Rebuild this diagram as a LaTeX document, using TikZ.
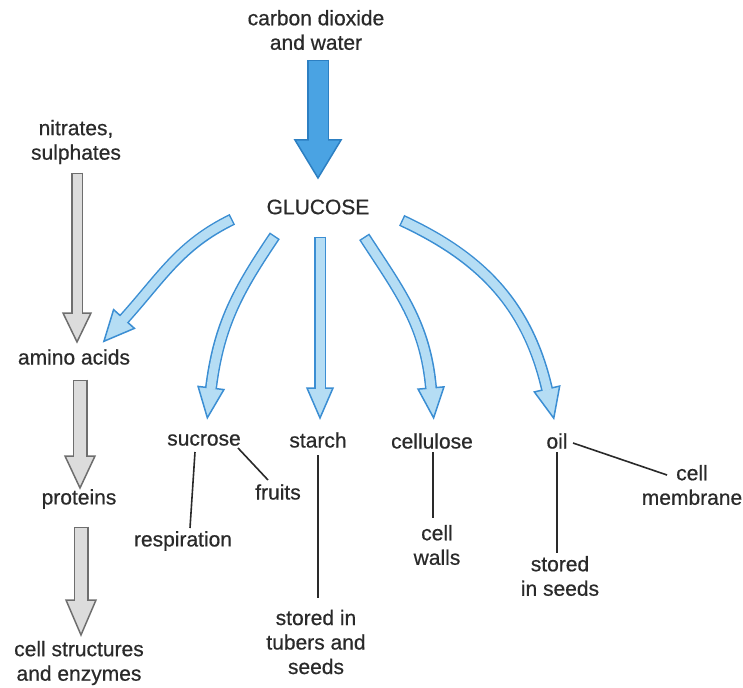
\documentclass[tikz,border=0pt]{standalone}
\usepackage{fontspec}
\setmainfont{Liberation Sans}[FakeBold=0.6]
\usetikzlibrary{calc}
\definecolor{txt}{HTML}{2A2A2A}
\definecolor{bigfill}{HTML}{4AA3E3}
\definecolor{bigline}{HTML}{2C7FC2}
\definecolor{ltfill}{HTML}{B5DDF4}
\definecolor{ltline}{HTML}{3B8ED3}
\definecolor{gyfill}{HTML}{DCDCDC}
\definecolor{gyline}{HTML}{6E6E6E}
\tikzset{
  lbl/.style={text=txt, font=\fontsize{21}{24.5}\selectfont, align=center, inner sep=0pt},
  link/.style={draw=txt, line width=1.6pt},
  bigout/.style={draw=bigline}, bigin/.style={draw=bigfill}, bighead/.style={draw=bigline, fill=bigfill},
  ltout/.style={draw=ltline}, ltin/.style={draw=ltfill}, lthead/.style={draw=ltline, fill=ltfill},
  gyout/.style={draw=gyline}, gyin/.style={draw=gyfill}, gyhead/.style={draw=gyline, fill=gyfill},
}
% #1 start, #2 head base, #3 out angle, #4 end direction (image angles, clockwise), #5 style, #6 shaft width, #7 head half width, #8 head length
\newcommand{\fatarr}[8]{%
  \pgfmathsetmacro\faOut{-(#3)}%
  \pgfmathsetmacro\faIn{180-(#4)}%
  \pgfmathsetmacro\faOuter{#6+3}%
  \draw[#5out, line width=\faOuter pt, shorten <=-1.5pt] (#1) to[out=\faOut,in=\faIn] (#2);
  \filldraw[#5head, line width=1.5pt, line join=miter] ($(#2)+(#4+90:#7)$) -- ($(#2)+(#4:#8)$) -- ($(#2)+(#4-90:#7)$) -- cycle;
  \draw[#5in, line width=#6 pt, shorten >=-1.2pt] (#1) to[out=\faOut,in=\faIn] (#2);
}
\begin{document}
\begin{tikzpicture}[x=1pt, y=-1pt]
\useasboundingbox (0,0) rectangle (743,687);
% labels
\node[lbl] (co2) at (316,30) {carbon dioxide\\and water};
\node[lbl] (glu) at (318,207) {GLUCOSE};
\node[lbl] (nit) at (76,142) {nitrates,\\sulphates};
\node[lbl] (amino) at (74,357) {amino acids};
\node[lbl] (prot) at (79,499) {proteins};
\node[lbl] (cellstr) at (79,663) {cell structures\\and enzymes};
\node[lbl] (suc) at (204,440) {sucrose};
\node[lbl] (starch) at (318,440) {starch};
\node[lbl] (cellu) at (432,441) {cellulose};
\node[lbl] (oil) at (557,441) {oil};
\node[lbl] (fruits) at (278,492) {fruits};
\node[lbl] (resp) at (183,541) {respiration};
\node[lbl] (tubers) at (316,642) {stored in\\tubers and\\seeds};
\node[lbl] (walls) at (437,545) {cell\\walls};
\node[lbl] (seeds) at (560,576) {stored\\in seeds};
\node[lbl] (memb) at (692,485) {cell\\membrane};
% arrow coordinates
\coordinate (bigS) at (318,61.5);
\coordinate (bigE) at (318,140);
\coordinate (n1S) at (77,174);
\coordinate (n1E) at (77,313);
\coordinate (n2S) at (80,381);
\coordinate (n2E) at (80,456);
\coordinate (n3S) at (81,528);
\coordinate (n3E) at (81,600);
\coordinate (aS) at (231,220);
\coordinate (aE) at (124,319);
\coordinate (sS) at (274,237);
\coordinate (sE) at (211,388);
\coordinate (tS) at (320,238);
\coordinate (tE) at (320,388);
\coordinate (cS) at (365,238);
\coordinate (cE) at (431,388);
\coordinate (oS) at (403,221);
\coordinate (oE) at (547,389);
% fat arrows
\fatarr{bigS}{bigE}{90}{90}{big}{19}{23}{38}
\fatarr{n1S}{n1E}{90}{90}{gy}{9}{14}{29}
\fatarr{n2S}{n2E}{90}{90}{gy}{12}{15}{32}
\fatarr{n3S}{n3E}{90}{90}{gy}{12}{15}{35}
\fatarr{aS}{aE}{154}{132}{lt}{9}{14}{30}
\fatarr{sS}{sE}{124}{97}{lt}{9}{13}{30}
\fatarr{tS}{tE}{90}{90}{lt}{9}{13}{30}
\fatarr{cS}{cE}{57}{85}{lt}{9}{13}{30}
\fatarr{oS}{oE}{25}{77}{lt}{9}{13}{30}
% thin connectors
\coordinate (s1) at (195,452); \coordinate (s2) at (190,528);
\coordinate (f1) at (238,448); \coordinate (f2) at (268,480);
\coordinate (st1) at (318,455); \coordinate (st2) at (318,598);
\coordinate (c1) at (433,452); \coordinate (c2) at (433,518);
\coordinate (o1) at (557,452); \coordinate (o2) at (557,553);
\coordinate (o3) at (573,443); \coordinate (o4) at (667,475);
\draw[link] (s1) -- (s2);
\draw[link] (f1) -- (f2);
\draw[link] (st1) -- (st2);
\draw[link] (c1) -- (c2);
\draw[link] (o1) -- (o2);
\draw[link] (o3) -- (o4);
\end{tikzpicture}
\end{document}
